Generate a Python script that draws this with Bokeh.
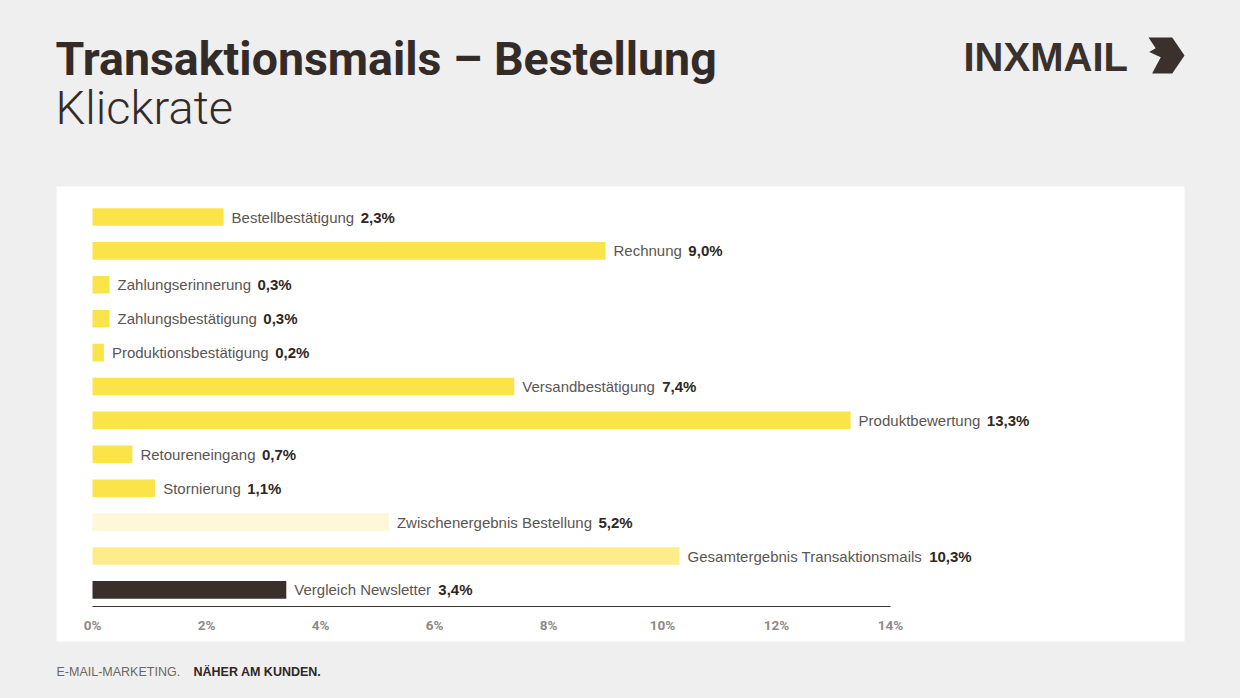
from bokeh.plotting import figure
from bokeh.models import Range1d, GlobalInlineStyleSheet
from bokeh.core.properties import value
from bokeh.embed import file_html
from bokeh.resources import INLINE

# ---------------- data ----------------
categories = ["Bestellbestätigung", "Rechnung", "Zahlungserinnerung", "Zahlungsbestätigung",
              "Produktionsbestätigung", "Versandbestätigung", "Produktbewertung",
              "Retoureneingang", "Stornierung", "Zwischenergebnis Bestellung",
              "Gesamtergebnis Transaktionsmails", "Vergleich Newsletter"]
values = [2.3, 9.0, 0.3, 0.3, 0.2, 7.4, 13.3, 0.7, 1.1, 5.2, 10.3, 3.4]
bar_colors = ["#fbe44a"] * 9 + ["#fef8d9", "#fded8a", "#3a2f2b"]
tick_values = [0, 2, 4, 6, 8, 10, 12, 14]
tick_labels = ["0%", "2%", "4%", "6%", "8%", "10%", "12%", "14%"]
title_text = "Transaktionsmails – Bestellung"
subtitle_text = "Klickrate"
footer_left = "E-MAIL-MARKETING."
footer_right = "NÄHER AM KUNDEN."
logo_text = "INXMAIL"

value_labels = [("%.1f" % v).replace(".", ",") + "%" for v in values]

# ---------------- layout helpers ----------------
W, H = 1224, 682
OFF = 0                   # page offset of the canvas
X0, PXU = 92.0, 57.0      # page x of 0%, pixels per percent
Y0, ROW = 216.5, 33.9     # page y of first row centre, row pitch


def dx(px):
    return (px - X0) / PXU


def dy(py):
    return (py - Y0) / ROW


# Liberation Sans (Arial metrics) advance widths, per 1000 em
REG = {' ': 278, 'a': 556, 'b': 556, 'c': 500, 'd': 556, 'e': 556, 'f': 278, 'g': 556,
       'h': 556, 'i': 222, 'j': 222, 'k': 500, 'l': 222, 'm': 833, 'n': 556, 'o': 556,
       'p': 556, 'q': 556, 'r': 333, 's': 500, 't': 278, 'u': 556, 'v': 500, 'w': 722,
       'x': 500, 'y': 500, 'z': 500, 'ä': 556, 'ü': 556, 'ö': 556,
       'B': 667, 'R': 722, 'Z': 611, 'P': 667, 'V': 667, 'G': 778, 'S': 667, 'T': 611,
       'N': 722}


def text_width(s, size):
    return sum(REG.get(c, 556) for c in s) * size / 1000.0


LABEL_SIZE = 15
p = figure(width=W, height=H, output_backend="svg", toolbar_location=None,
           x_range=Range1d(dx(OFF), dx(OFF + W)), y_range=Range1d(dy(OFF + H), dy(OFF)),
           x_axis_location=None, y_axis_location=None, min_border=0,
           background_fill_color="#efefef", border_fill_color="#efefef",
           outline_line_color=None)
p.grid.visible = False
p.stylesheets = [GlobalInlineStyleSheet(css="body{background:#efefef;}")]

# white panel
p.quad(left=dx(56), right=dx(1184), top=dy(186), bottom=dy(641),
       fill_color="white", line_color=None)

rows = list(range(len(categories)))
p.hbar(y=rows, left=0, right=values, height=0.52, fill_color=bar_colors, line_color=None)

label_x = [v + 8.0 / PXU for v in values]
p.text(x=label_x, y=rows, text=categories, text_font=value("Liberation Sans"),
       text_font_size="%dpx" % LABEL_SIZE, text_color="#5b5552",
       text_baseline="middle", text_align="left")
val_x = [lx + (text_width(c, LABEL_SIZE) + 6.5) / PXU for lx, c in zip(label_x, categories)]
p.text(x=val_x, y=rows, text=value_labels, text_font=value("Liberation Sans"),
       text_font_style="bold", text_font_size="%dpx" % LABEL_SIZE, text_color="#2e2724",
       text_baseline="middle", text_align="left")

# axis line and tick labels
p.segment(x0=[tick_values[0]], x1=[tick_values[-1]], y0=[dy(606)], y1=[dy(606)],
          line_color="#3a3330", line_width=1.2)
p.text(x=tick_values, y=[dy(624)] * len(tick_values), text=tick_labels,
       text_font=value("Roboto"), text_font_style="bold",
       text_font_size="13.5px", text_color="#8e8a88", text_baseline="middle",
       text_align="center")

# title and subtitle
p.text(x=[dx(55)], y=[dy(58)], text=[title_text], text_font=value("Roboto"),
       text_font_style="bold", text_font_size="46.5px", text_color="#332b28",
       text_baseline="middle", text_align="left")
p.text(x=[dx(55)], y=[dy(107)], text=[subtitle_text],
       text_font=value("Roboto Light, Roboto"),
       text_font_size="47px", text_color="#332b28",
       text_baseline="middle", text_align="left")

# footer
p.text(x=[dx(56)], y=[dy(671.5)], text=[footer_left], text_font=value("Liberation Sans"),
       text_font_size="12.5px", text_color="#6b6663", text_baseline="middle")
p.text(x=[dx(193)], y=[dy(671.5)], text=[footer_right], text_font=value("Liberation Sans"),
       text_font_style="bold", text_font_size="12.5px", text_color="#2f2724",
       text_baseline="middle")

# logo
p.text(x=[dx(963)], y=[dy(56)], text=[logo_text], text_font=value("Liberation Sans"),
       text_font_style="bold", text_font_size="40px", text_color="#3a302c",
       text_baseline="middle")
icon = [(0, 0), (0.66, 0), (1, 0.5), (0.66, 1), (0.1, 1), (0.34, 0.55), (0.02, 0.4),
        (0.2, 0.3)]
bx, by, bw, bh = 1148, 37, 36, 36
p.patch(x=[dx(bx + u * bw) for u, v in icon], y=[dy(by + v * bh) for u, v in icon],
        fill_color="#3a302c", line_color=None)

open("out.html", "w").write(file_html(p, INLINE))
